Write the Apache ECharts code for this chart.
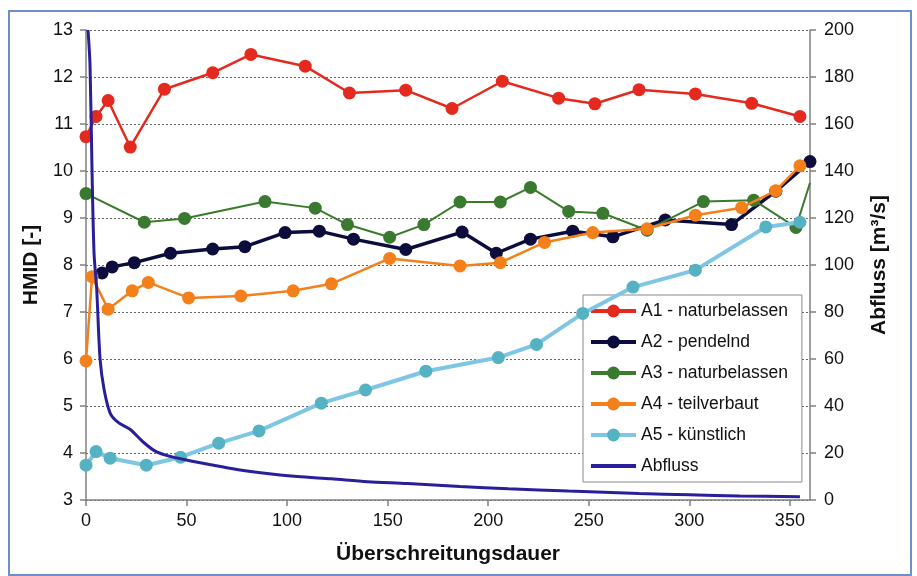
<!DOCTYPE html>
<html>
<head>
<meta charset="utf-8">
<script src="https://cdn.jsdelivr.net/npm/echarts@6/dist/echarts.min.js"></script>
<style>
  html, body { margin: 0; padding: 0; background: #ffffff; }
  #chart { width: 917px; height: 576px; }
</style>
</head>
<body>
<div id="chart"></div>
<script>
// HMID per reach over exceedance duration, with discharge on the right axis
const seriesNames = ['A1 - naturbelassen', 'A2 - pendelnd', 'A3 - naturbelassen', 'A4 - teilverbaut', 'A5 - künstlich', 'Abfluss'];

const a1 = [[0,10.73],[5,11.16],[11,11.5],[22,10.51],[39,11.74],[63,12.09],[82,12.48],[109,12.23],[131,11.66],[159,11.72],[182,11.33],[207,11.91],[235,11.55],[253,11.43],[275,11.73],[303,11.64],[331,11.44],[355,11.16]];
const a2 = [[8,7.83],[13,7.96],[24,8.05],[42,8.25],[63,8.34],[79,8.39],[99,8.69],[116,8.72],[133,8.55],[159,8.33],[187,8.7],[204,8.25],[221,8.55],[242,8.72],[262,8.6],[288,8.96],[321,8.86],[343,9.57],[360,10.2]];
const a3 = [[0,9.52],[29,8.91],[49,8.99],[89,9.35],[114,9.21],[130,8.86],[151,8.59],[168,8.86],[186,9.34],[206,9.34],[221,9.65],[240,9.14],[257,9.1],[279,8.74],[307,9.35],[332,9.38],[353,8.8],[360,9.75]];
const a4 = [[0,5.96],[3,7.75],[11,7.06],[23,7.45],[31,7.63],[51,7.3],[77,7.34],[103,7.45],[122,7.6],[151,8.14],[186,7.98],[206,8.05],[228,8.48],[252,8.69],[279,8.77],[303,9.06],[326,9.22],[343,9.58],[355,10.11]];
const a5 = [[0,3.74],[5,4.03],[12,3.89],[30,3.74],[47,3.91],[66,4.21],[86,4.47],[117,5.06],[139,5.34],[169,5.74],[205,6.03],[224,6.31],[247,6.97],[272,7.53],[303,7.89],[338,8.81],[355,8.91]];
const abfluss = [[1,200],[2,185],[3,140],[4,105],[5.3,90],[7,60],[9,47],[12,37],[16,33],[22,30],[28,25],[34,21],[40,19],[50,17],[62,15],[75,13],[90,11.3],[105,10],[122,9],[140,7.8],[160,7],[186,5.7],[210,4.8],[240,3.8],[275,2.8],[300,2.2],[325,1.7],[355,1.4]];

const xTicks = { min: 0, max: 360, interval: 50 };
const hmidTicks = { min: 3, max: 13, interval: 1 };
const flowTicks = { min: 0, max: 200, interval: 20 };

const FONT = '"Liberation Sans", Arial, sans-serif';
const colors = ['#e42a1e', '#0c0d3c', '#3b7b2d', '#f3801b', '#7fc6e4', '#2a1e9a'];
const markerColors = ['#e42a1e', '#0c0d3c', '#3a7a30', '#f3801b', '#55b2c2', '#2a1e9a'];
const widths = [2.5, 3.5, 2, 2.5, 4, 3];

function hmidSeries(i, data, lastHidden) {
  return {
    name: seriesNames[i],
    type: 'line',
    yAxisIndex: 0,
    data: data.map((p, k) => (lastHidden && k === data.length - 1)
      ? { value: p, symbolSize: 0 } : p),
    symbol: 'circle',
    symbolSize: 13,
    showAllSymbol: true,
    lineStyle: { color: colors[i], width: widths[i] },
    itemStyle: { color: markerColors[i] },
    emphasis: { disabled: true },
    z: 2 + i
  };
}

// legend entries: the discharge entry shows only its line, no marker
const legendData = seriesNames.map((n, i) => i === 5
  ? { name: n, itemStyle: { opacity: 0 } }
  : { name: n });

const chart = echarts.init(document.getElementById('chart'));
chart.setOption({
  animation: false,
  backgroundColor: '#ffffff',
  textStyle: { fontFamily: FONT },
  grid: { left: 86, right: 107, top: 30, bottom: 76, containLabel: false },
  graphic: [{
    type: 'rect',
    shape: { x: 9, y: 11, width: 902, height: 564 },
    style: { fill: null, stroke: '#6f8fcb', lineWidth: 2 },
    silent: true, z: -10
  }],
  legend: {
    orient: 'vertical',
    left: 583, top: 295,
    padding: [7, 14, 7, 6],
    itemWidth: 45, itemHeight: 16, itemGap: 13,
    backgroundColor: '#ffffff',
    borderColor: '#8a8a8a', borderWidth: 1,
    lineStyle: { width: 4 },
    textStyle: { fontFamily: FONT, fontSize: 17.5, color: '#111111' },
    data: legendData
  },
  xAxis: {
    type: 'value',
    min: xTicks.min, max: xTicks.max, interval: xTicks.interval,
    name: 'Überschreitungsdauer',
    nameLocation: 'middle', nameGap: 44,
    nameTextStyle: { fontFamily: FONT, fontSize: 21, fontWeight: 'bold', color: '#111111' },
    axisLine: { onZero: false, lineStyle: { color: '#808080', width: 1.5 } },
    axisTick: { show: true, length: 6, lineStyle: { color: '#808080', width: 1.5 } },
    axisLabel: { fontFamily: FONT, fontSize: 18, color: '#111111', margin: 12, showMaxLabel: false },
    splitLine: { show: false }
  },
  yAxis: [{
    type: 'value', position: 'left',
    min: hmidTicks.min, max: hmidTicks.max, interval: hmidTicks.interval,
    name: 'HMID [-]',
    nameLocation: 'middle', nameGap: 34, nameRotate: 90,
    nameTextStyle: { fontFamily: FONT, fontSize: 21, fontWeight: 'bold', color: '#111111' },
    axisLine: { show: true, onZero: false, lineStyle: { color: '#808080', width: 1.5 } },
    axisTick: { show: true, length: 6, lineStyle: { color: '#808080', width: 1.5 } },
    axisLabel: { fontFamily: FONT, fontSize: 18, color: '#111111', margin: 13 },
    splitLine: { show: true, lineStyle: { color: '#666666', width: 1, type: [2, 2] } }
  }, {
    type: 'value', position: 'right',
    min: flowTicks.min, max: flowTicks.max, interval: flowTicks.interval,
    name: 'Abfluss [m³/s]',
    nameLocation: 'middle', nameGap: 59, nameRotate: 90,
    nameTextStyle: { fontFamily: FONT, fontSize: 21, fontWeight: 'bold', color: '#111111' },
    axisLine: { show: true, onZero: false, lineStyle: { color: '#808080', width: 1.5 } },
    axisTick: { show: true, length: 6, lineStyle: { color: '#808080', width: 1.5 } },
    axisLabel: { fontFamily: FONT, fontSize: 18, color: '#111111', margin: 14 },
    splitLine: { show: false }
  }],
  series: [
    hmidSeries(0, a1),
    hmidSeries(1, a2),
    hmidSeries(2, a3, true),
    hmidSeries(3, a4),
    hmidSeries(4, a5),
    {
      name: seriesNames[5],
      type: 'line',
      yAxisIndex: 1,
      data: abfluss,
      symbol: 'none',
      smooth: 0.3,
      lineStyle: { color: colors[5], width: widths[5] },
      itemStyle: { color: colors[5] },
      emphasis: { disabled: true },
      z: 10
    }
  ]
});
</script>
</body>
</html>
